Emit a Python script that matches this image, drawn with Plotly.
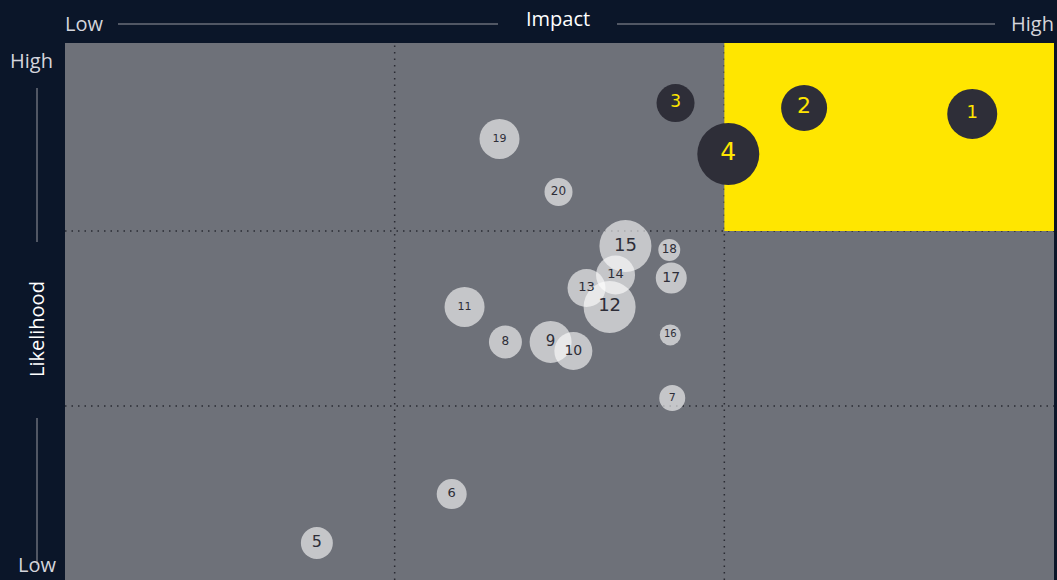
import plotly.graph_objects as go

# Risk data
risk_ids = [str(i) for i in range(1, 21)]
impact = [2.752, 2.242, 1.852, 2.012, 0.764, 1.173, 1.842, 1.336, 1.473, 1.542,
          1.212, 1.652, 1.582, 1.670, 1.700, 1.836, 1.839, 1.833, 1.318, 1.497]
likelihood = [2.669, 2.703, 2.731, 2.440, 0.217, 0.497, 1.046, 1.366, 1.366, 1.314,
              1.566, 1.566, 1.674, 1.749, 1.914, 1.406, 1.731, 1.891, 2.526, 2.223]
velocity = [25, 23, 19, 31, 16, 15, 13, 16.5, 21, 19,
            20, 26, 19, 19.5, 26, 10.5, 15.5, 11, 20, 14]
top_risks = 4

# label font sizes (style)
label_px = [18, 22, 17, 25, 16, 13, 11, 12, 15, 14,
            11, 18, 13, 13, 18, 10, 14, 12, 11, 12]

BG = "#0b1629"
PLOT = "#6e7179"
YELLOW = "#ffe600"
DARK = "#2e2e38"

fig = go.Figure()

fig.add_trace(go.Scatter(
    x=impact[top_risks:], y=likelihood[top_risks:], text=risk_ids[top_risks:],
    mode="markers+text",
    marker=dict(size=velocity[top_risks:], sizemode="diameter", sizeref=0.5,
                color="white", opacity=0.6, line=dict(width=0)),
    textfont=dict(color=DARK, family="DejaVu Sans", size=label_px[top_risks:]),
    textposition="middle center", hoverinfo="text", showlegend=False,
))
fig.add_trace(go.Scatter(
    x=impact[:top_risks], y=likelihood[:top_risks], text=risk_ids[:top_risks],
    mode="markers+text",
    marker=dict(size=velocity[:top_risks], sizemode="diameter", sizeref=0.5,
                color=DARK, opacity=1, line=dict(width=0)),
    textfont=dict(color=YELLOW, family="DejaVu Sans", size=label_px[:top_risks]),
    textposition="middle center", hoverinfo="text", showlegend=False,
))

Y0, Y1 = 0.0057, 3.0743
shapes = [
    dict(type="rect", xref="x", yref="y", x0=2, x1=3, y0=2, y1=Y1,
         fillcolor=YELLOW, line=dict(width=0), layer="below"),
]
grid_line = dict(color="#2a2b33", width=1.5, dash="1.5px,5px")
for v in [1, 2]:
    shapes.append(dict(type="line", xref="x", yref="paper", x0=v, x1=v, y0=0, y1=1,
                       line=grid_line, layer="below"))
    shapes.append(dict(type="line", xref="paper", yref="y", x0=0, x1=1, y0=v, y1=v,
                       line=grid_line, layer="below"))
# header / side guide lines (paper coords)
W, H = 989, 537
def px(xp):
    return (xp - 65) / W
def py(yp):
    return (580 - yp) / H
line_col = "#6a6e78"
shapes += [
    dict(type="line", xref="paper", yref="paper", x0=px(118), x1=px(498), y0=py(24), y1=py(24),
         line=dict(color=line_col, width=1.5)),
    dict(type="line", xref="paper", yref="paper", x0=px(617), x1=px(995), y0=py(24), y1=py(24),
         line=dict(color=line_col, width=1.5)),
    dict(type="line", xref="paper", yref="paper", x0=px(37), x1=px(37), y0=py(88), y1=py(242),
         line=dict(color=line_col, width=1.5)),
    dict(type="line", xref="paper", yref="paper", x0=px(37), x1=px(37), y0=py(418), y1=py(565),
         line=dict(color=line_col, width=1.5)),
]

FONT = "Open Sans"
anns = [
    dict(text="Low", x=px(84), y=py(23), font=dict(color="#d4d5dc", size=20, family=FONT)),
    dict(text="Impact", x=px(558), y=py(18), font=dict(color="white", size=20, family=FONT)),
    dict(text="High", x=px(1032), y=py(23), font=dict(color="#d4d5dc", size=20, family=FONT)),
    dict(text="High", x=px(31), y=py(61), font=dict(color="#d4d5dc", size=20, family=FONT)),
    dict(text="Likelihood", x=px(36), y=py(329), textangle=-90,
         font=dict(color="white", size=20, family=FONT)),
    dict(text="Low", x=px(37), y=py(580), yanchor="bottom",
         font=dict(color="#d4d5dc", size=20, family=FONT)),
]
for a in anns:
    a.setdefault("yanchor", "middle")
    a.update(xref="paper", yref="paper", showarrow=False, xanchor="center")

fig.update_layout(
    width=1057, height=580,
    margin=dict(l=65, r=3, t=43, b=0),
    paper_bgcolor=BG, plot_bgcolor=PLOT,
    xaxis=dict(range=[0, 3], showgrid=False, zeroline=False, showticklabels=False,
               fixedrange=True),
    yaxis=dict(range=[Y0, Y1], showgrid=False, zeroline=False, showticklabels=False,
               fixedrange=True),
    shapes=shapes, annotations=anns,
)

fig.write_html("out.html", config={"displayModeBar": False},
               post_script="document.body.style.margin='0';document.body.style.background='#0b1629';")
